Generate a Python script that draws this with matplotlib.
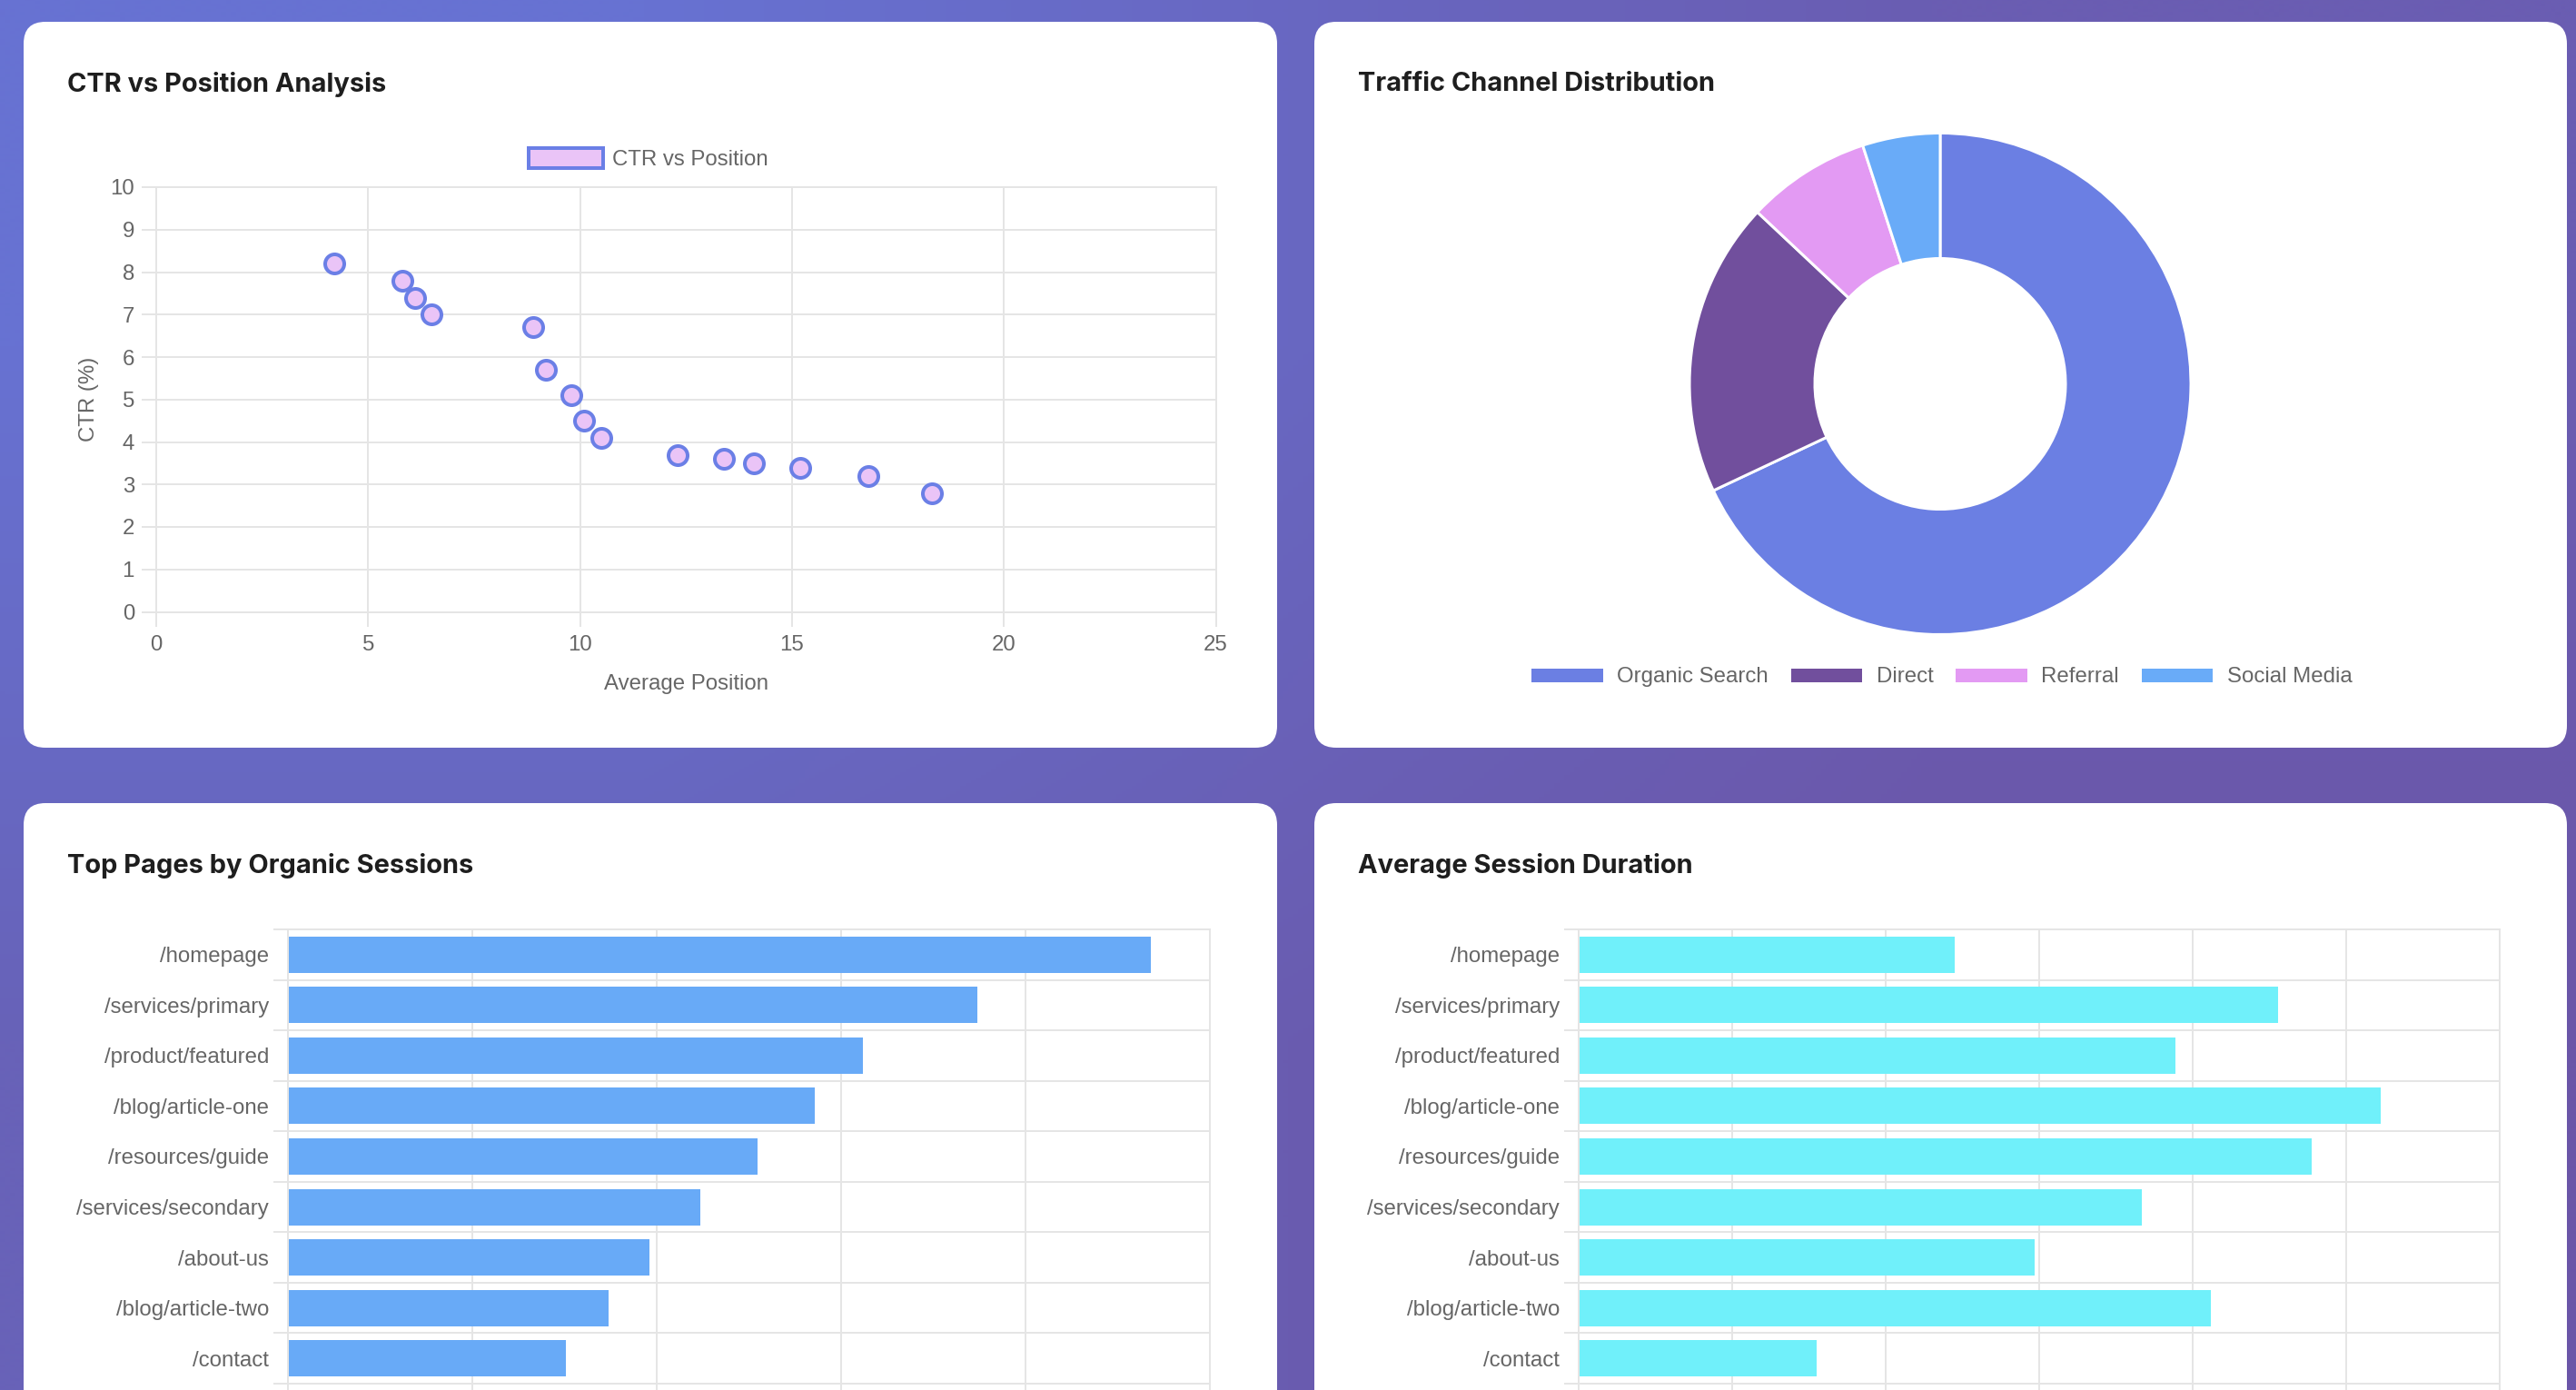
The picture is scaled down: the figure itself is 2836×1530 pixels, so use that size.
import numpy as np
import matplotlib.pyplot as plt
from matplotlib.patches import FancyBboxPatch, Patch

# --- dados ---
ctr_position = [4.2, 5.8, 6.1, 6.5, 8.9, 9.2, 9.8, 10.1, 10.5, 12.3, 13.4, 14.1, 15.2, 16.8, 18.3]
ctr_values = [8.2, 7.8, 7.4, 7.0, 6.7, 5.7, 5.1, 4.5, 4.1, 3.7, 3.6, 3.5, 3.4, 3.2, 2.8]

channels = ['Organic Search', 'Direct', 'Referral', 'Social Media']
channel_share = [68, 19, 8, 5]

pages = ['/homepage', '/services/primary', '/product/featured', '/blog/article-one',
         '/resources/guide', '/services/secondary', '/about-us', '/blog/article-two', '/contact']
organic_sessions = [4680, 3740, 3120, 2860, 2550, 2240, 1960, 1740, 1510]
avg_duration_min = [2.45, 4.56, 3.89, 5.23, 4.78, 3.67, 2.97, 4.12, 1.55]

# --- estilo ---
W, H = 2836, 1530
DPI = 100
GRID = '#e5e5e5'
TICK_COLOR = '#666666'
TITLE_COLOR = '#1e1e1e'
CHANNEL_COLORS = ['#6b7fe3', '#714f9d', '#e39af3', '#69abf8']


def pt(px):
    return px * 72.0 / DPI


TICK_FONT = dict(family='Liberation Sans', size=pt(24), color=TICK_COLOR)
TITLE_FONT = dict(family='Inter', size=pt(29), weight='bold', color=TITLE_COLOR)

fig = plt.figure(figsize=(W / DPI, H / DPI), dpi=DPI)


def px_axes(left, top, right, bottom, **kw):
    return fig.add_axes([left / W, 1 - bottom / H, (right - left) / W, (bottom - top) / H], **kw)


# fundo em degrade + cartoes brancos
bg = px_axes(0, 0, W, H)
bg.axis('off')
corners = np.array([[[0x67, 0x72, 0xd2], [0x6a, 0x5d, 0xb2]],
                    [[0x68, 0x62, 0xb8], [0x6b, 0x56, 0xa8]]]) / 255.0
bg.imshow(corners, extent=[0, W, H, 0], interpolation='bilinear', aspect='auto', zorder=0)
bg.set_xlim(0, W)
bg.set_ylim(H, 0)

cards = [(26, 24, 1406, 823), (1447, 24, 2826, 823),
         (26, 884, 1406, 1600), (1447, 884, 2826, 1600)]
for l, t, r, b in cards:
    bg.add_patch(FancyBboxPatch((l + 24, t + 24), r - l - 48, b - t - 48,
                                boxstyle='round,pad=24', fc='white', ec='none', zorder=1))

titles = ['CTR vs Position Analysis', 'Traffic Channel Distribution',
          'Top Pages by Organic Sessions', 'Average Session Duration']
for (l, t, r, b), title in zip(cards, titles):
    fig.text((l + 48) / W, 1 - (t + 69) / H, title, ha='left', va='center', **TITLE_FONT)


def style_axes(ax):
    for s in ax.spines.values():
        s.set_color(GRID)
        s.set_linewidth(pt(2))
    ax.tick_params(which='both', color=GRID, width=pt(2), length=pt(16), pad=pt(10))
    for lab in ax.get_xticklabels() + ax.get_yticklabels():
        lab.set_fontfamily('Liberation Sans')
        lab.set_fontsize(pt(24))
        lab.set_color(TICK_COLOR)


# ==========================================
# 1. CTR vs Position (scatter)
# ==========================================
ax1 = px_axes(172, 206, 1338.5, 673.5)
ax1.scatter(ctr_position, ctr_values, s=pt(21) ** 2, c='#eac4f7', edgecolors='#6b7fe6',
            linewidths=pt(4), zorder=3)
ax1.set_xlim(0, 25)
ax1.set_ylim(0, 10)
ax1.set_xticks(np.arange(0, 26, 5))
ax1.set_yticks(np.arange(0, 11, 1))
ax1.grid(True, color=GRID, linewidth=pt(2))
ax1.set_axisbelow(True)
style_axes(ax1)
ax1.tick_params(axis='y', pad=pt(8))
ax1.set_xlabel('Average Position', **TICK_FONT, labelpad=pt(20))
ax1.set_ylabel('CTR (%)', **TICK_FONT, labelpad=pt(12))

fig.legend(handles=[Patch(fc='#eac4f7', ec='#6b7fe6', lw=pt(4), label='CTR vs Position')],
           loc='center', bbox_to_anchor=(714 / W, 1 - 175 / H), frameon=False,
           handlelength=3.4, handleheight=1.0, handletextpad=0.45,
           prop=dict(family='Liberation Sans', size=pt(24)), labelcolor=TICK_COLOR)

# ==========================================
# 2. Traffic channels (donut)
# ==========================================
cx, cy, rad = 2136, 422.5, 276
ax2 = px_axes(cx - rad, cy - rad, cx + rad, cy + rad)
wedges, _ = ax2.pie(channel_share, colors=CHANNEL_COLORS, startangle=90, counterclock=False,
                    radius=1.0, wedgeprops=dict(width=0.5, edgecolor='white', linewidth=pt(3)))
ax2.set_xlim(-1, 1)
ax2.set_ylim(-1, 1)
ax2.set_aspect('equal')

fig.legend(wedges, channels, loc='center', bbox_to_anchor=(2137 / W, 1 - 745 / H), ncol=4,
           frameon=False, handlelength=3.4, handleheight=0.8, handletextpad=0.6,
           columnspacing=0.95, prop=dict(family='Liberation Sans', size=pt(24)),
           labelcolor=TICK_COLOR)


# ==========================================
# 3 e 4. Barras horizontais
# ==========================================
def bar_panel(left, right, values, color, xmax, nsteps):
    ax = px_axes(left, 1023, right, 1523)
    y = np.arange(len(pages))
    ax.barh(y, values, height=0.72, color=color, zorder=2)
    ax.set_ylim(len(pages) - 0.5, -0.5)
    ax.set_xlim(0, xmax)
    ax.set_xticks(np.linspace(0, xmax, nsteps + 1))
    ax.set_yticks(y)
    ax.set_yticklabels(pages)
    ax.set_yticks(np.arange(-0.5, len(pages), 1), minor=True)
    ax.grid(True, axis='x', color=GRID, linewidth=pt(2))
    ax.grid(True, axis='y', which='minor', color=GRID, linewidth=pt(2))
    ax.set_axisbelow(True)
    style_axes(ax)
    ax.tick_params(axis='y', which='major', length=0, pad=pt(21))
    # os rotulos do eixo x ficam fora do recorte da imagem
    ax.tick_params(axis='x', labelbottom=False)
    return ax


bar_panel(317, 1331.5, organic_sessions, '#68aaf7', 5000, 5)
bar_panel(1738, 2751.5, avg_duration_min, '#70f0fa', 6, 6)

fig.savefig('out.png', dpi=DPI)
